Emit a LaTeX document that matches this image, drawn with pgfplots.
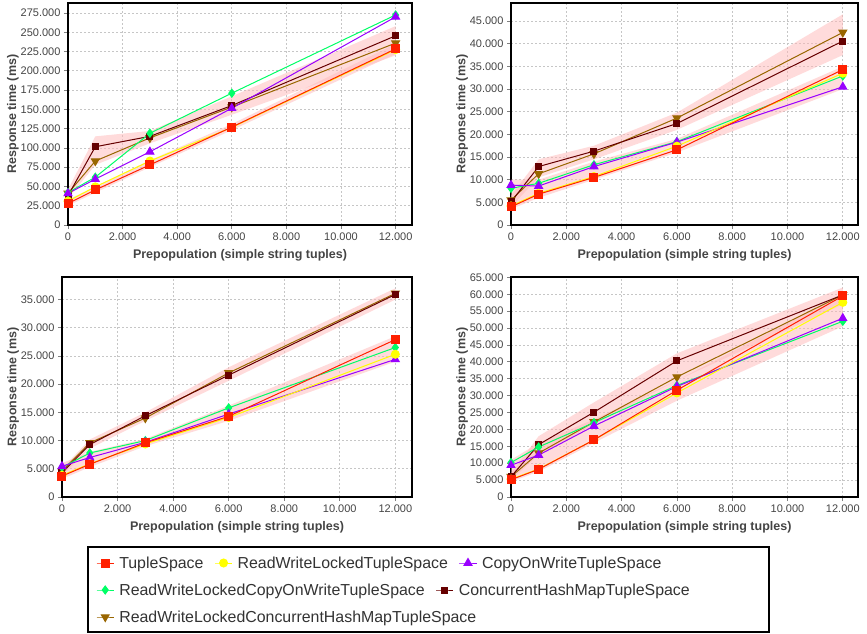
\documentclass[border=0pt]{standalone}
\usepackage{pgfplots}
\pgfplotsset{compat=1.18}
\usepackage{fontspec}
\setmainfont{Liberation Sans}
\definecolor{cTS}{HTML}{FF2000}
\definecolor{cRW}{HTML}{FFFF00}
\definecolor{cCOW}{HTML}{9900FF}
\definecolor{cRWCOW}{HTML}{00FF66}
\definecolor{cCHM}{HTML}{660000}
\definecolor{cRWCHM}{HTML}{996600}
\definecolor{band}{HTML}{FFB8B8}
\definecolor{tickc}{HTML}{444444}
\definecolor{legc}{HTML}{333333}

\pgfplotsset{
  chart/.style={
    scale only axis, anchor=south west,
    xmin=0, xtick={0,2000,...,12000}, ymin=0,
    scaled ticks=false,
    /pgf/number format/fixed,
    /pgf/number format/precision=0,
    /pgf/number format/1000 sep={.},
    /pgf/number format/assume math mode=true,
    tick align=outside, xtick pos=bottom, ytick pos=left,
    major tick length=4pt,
    tick style={gray, line width=0.8pt},
    axis line style={black, line width=1.2pt},
    grid=major,
    grid style={gray!45, dash pattern=on 2pt off 2pt, line width=0.8pt},
    ticklabel style={font=\fontsize{11}{12}\selectfont, text=tickc},
    label style={font=\fontsize{12.5}{14}\selectfont\bfseries, text=tickc},
    xlabel={Prepopulation (simple string tuples)},
    ylabel={Response time (ms)},
    xlabel style={yshift=-2pt},
    ylabel style={yshift=-5pt},
  },
  bnd/.style={draw=none, fill=band, fill opacity=0.5, forget plot},
  sTS/.style={color=cTS, line width=1pt, mark=square*, mark size=4pt, mark options={solid}},
  sRW/.style={color=cRW, line width=1pt, mark=*, mark size=4pt, mark options={solid}},
  sCOW/.style={color=cCOW, line width=1pt, mark=triangle*, mark size=4.5pt, mark options={solid}},
  sRWCOW/.style={color=cRWCOW, line width=1pt, mark=diamond*, mark size=4pt, mark options={solid}},
  sCHM/.style={color=cCHM, line width=1pt, mark=square*, mark size=3pt, mark options={solid}},
  sRWCHM/.style={color=cRWCHM, line width=1pt, mark=triangle*, mark size=4.5pt, mark options={solid, rotate=180}},
  legrow/.style={hide axis, scale only axis, anchor=south west, width=1pt, height=1pt,
    xmin=0, xmax=1, ymin=0, ymax=1,
    legend columns=-1,
    legend style={at={(0,0)}, anchor=west, draw=none, fill=none, inner xsep=0pt, inner ysep=0pt,
      font=\fontsize{15.9}{18}\selectfont, text=legc,
      /tikz/every odd column/.append style={column sep=3pt},
      /tikz/every even column/.append style={column sep=9pt}},
  },
}

\begin{document}
\begin{tikzpicture}
\path[use as bounding box] (0,0) rectangle (867pt,633pt);

% ---------------- Plot 1 (top left)
\begin{axis}[chart, at={(68pt,408pt)}, width=344pt, height=222pt,
  xmax=12600, ymax=288000, ytick={0,25000,...,275000}]
\addplot[bnd] coordinates {(0,46000) (1000,115000) (3000,122000) (6000,167000) (12000,258000)
  (12000,220000) (6000,143000) (3000,106000) (1000,78000) (0,34000)} -- cycle;
\addplot[bnd] coordinates {(0,33000) (1000,50000) (3000,84000) (6000,131000) (12000,235000)
  (12000,222000) (6000,123000) (3000,75000) (1000,42000) (0,25000)} -- cycle;
\addplot[sRWCHM] coordinates {(0,41000) (1000,83000) (3000,113000) (6000,153000) (12000,236000)};
\addplot[sCHM] coordinates {(0,38000) (1000,101500) (3000,115000) (6000,155000) (12000,245500)};
\addplot[sRWCOW] coordinates {(0,42000) (1000,62000) (3000,119000) (6000,171000) (12000,272500)};
\addplot[sCOW] coordinates {(0,41000) (1000,59500) (3000,95000) (6000,151500) (12000,270000)};
\addplot[sRW] coordinates {(0,31000) (1000,49500) (3000,83000) (6000,126500) (12000,227500)};
\addplot[sTS] coordinates {(0,28000) (1000,45500) (3000,78000) (6000,127000) (12000,228500)};
\end{axis}

% ---------------- Plot 2 (top right)
\begin{axis}[chart, at={(511pt,408pt)}, width=347pt, height=222pt,
  xmax=12550, ymax=49000, ytick={0,5000,...,45000}]
\addplot[bnd] coordinates {(0,6500) (1000,14500) (3000,17500) (6000,24800) (12000,46500)
  (12000,37500) (6000,21000) (3000,14500) (1000,10500) (0,4000)} -- cycle;
\addplot[bnd] coordinates {(0,10000) (1000,10000) (3000,14000) (6000,19000) (12000,35000)
  (12000,30000) (6000,16000) (3000,10000) (1000,6000) (0,3500)} -- cycle;
\addplot[sRWCHM] coordinates {(0,5500) (1000,11300) (3000,15700) (6000,23600) (12000,42500)};
\addplot[sCHM] coordinates {(0,5100) (1000,12900) (3000,16300) (6000,22400) (12000,40600)};
\addplot[sRWCOW] coordinates {(0,8100) (1000,9200) (3000,13300) (6000,18400) (12000,32900)};
\addplot[sCOW] coordinates {(0,8800) (1000,8600) (3000,12900) (6000,18300) (12000,30500)};
\addplot[sRW] coordinates {(0,4200) (1000,7000) (3000,10700) (6000,17400) (12000,33500)};
\addplot[sTS] coordinates {(0,4000) (1000,6800) (3000,10500) (6000,16600) (12000,34300)};
\end{axis}

% ---------------- Plot 3 (bottom left)
\begin{axis}[chart, at={(62pt,136pt)}, width=350pt, height=220pt,
  xmax=12600, ymax=39000, ytick={0,5000,...,35000}]
\addplot[bnd] coordinates {(0,5000) (1000,10200) (3000,15000) (6000,23000) (12000,37000)
  (12000,35000) (6000,20600) (3000,13500) (1000,8600) (0,3800)} -- cycle;
\addplot[bnd] coordinates {(0,6000) (1000,8000) (3000,10300) (6000,16200) (12000,28500)
  (12000,24000) (6000,13500) (3000,9000) (1000,5300) (0,3200)} -- cycle;
\addplot[sRWCHM] coordinates {(0,4600) (1000,9600) (3000,14000) (6000,22000) (12000,36100)};
\addplot[sCHM] coordinates {(0,4300) (1000,9300) (3000,14400) (6000,21600) (12000,35900)};
\addplot[sRWCOW] coordinates {(0,5250) (1000,7800) (3000,10000) (6000,15800) (12000,26500)};
\addplot[sCOW] coordinates {(0,5450) (1000,7000) (3000,9700) (6000,14700) (12000,24400)};
\addplot[sRW] coordinates {(0,3850) (1000,5900) (3000,9400) (6000,14100) (12000,25300)};
\addplot[sTS] coordinates {(0,3700) (1000,5800) (3000,9600) (6000,14300) (12000,27900)};
\end{axis}

% ---------------- Plot 4 (bottom right)
\begin{axis}[chart, at={(511pt,136pt)}, width=347pt, height=220pt,
  xmax=12550, ymax=65100, ytick={0,5000,...,65000}]
\addplot[bnd] coordinates {(0,7000) (1000,18000) (3000,28000) (6000,42500) (12000,62000)
  (12000,57000) (6000,34500) (3000,21500) (1000,12500) (0,5000)} -- cycle;
\addplot[bnd] coordinates {(0,11000) (1000,16000) (3000,23000) (6000,34500) (12000,60000)
  (12000,50500) (6000,28500) (3000,16000) (1000,7500) (0,4500)} -- cycle;
\addplot[sRWCHM] coordinates {(0,6000) (1000,13000) (3000,22200) (6000,35500) (12000,59800)};
\addplot[sCHM] coordinates {(0,6000) (1000,15500) (3000,25100) (6000,40300) (12000,59800)};
\addplot[sRWCOW] coordinates {(0,10200) (1000,14800) (3000,22000) (6000,33000) (12000,52000)};
\addplot[sCOW] coordinates {(0,9400) (1000,12400) (3000,21000) (6000,32700) (12000,52900)};
\addplot[sRW] coordinates {(0,5300) (1000,8300) (3000,16900) (6000,30800) (12000,57600)};
\addplot[sTS] coordinates {(0,5100) (1000,8200) (3000,16900) (6000,31600) (12000,59500)};
\end{axis}

% ---------------- Legend
\draw[black, line width=1.2pt] (88pt,1pt) rectangle (769pt,86pt);
\begin{axis}[legrow, at={(96pt,70pt)}]
\addlegendimage{sTS}\addlegendentry{TupleSpace}
\addlegendimage{sRW}\addlegendentry{ReadWriteLockedTupleSpace}
\addlegendimage{sCOW}\addlegendentry{CopyOnWriteTupleSpace}
\end{axis}
\begin{axis}[legrow, at={(96pt,43pt)}]
\addlegendimage{sRWCOW}\addlegendentry{ReadWriteLockedCopyOnWriteTupleSpace}
\addlegendimage{sCHM}\addlegendentry{ConcurrentHashMapTupleSpace}
\end{axis}
\begin{axis}[legrow, at={(96pt,16pt)}]
\addlegendimage{sRWCHM}\addlegendentry{ReadWriteLockedConcurrentHashMapTupleSpace}
\end{axis}
\end{tikzpicture}
\end{document}
